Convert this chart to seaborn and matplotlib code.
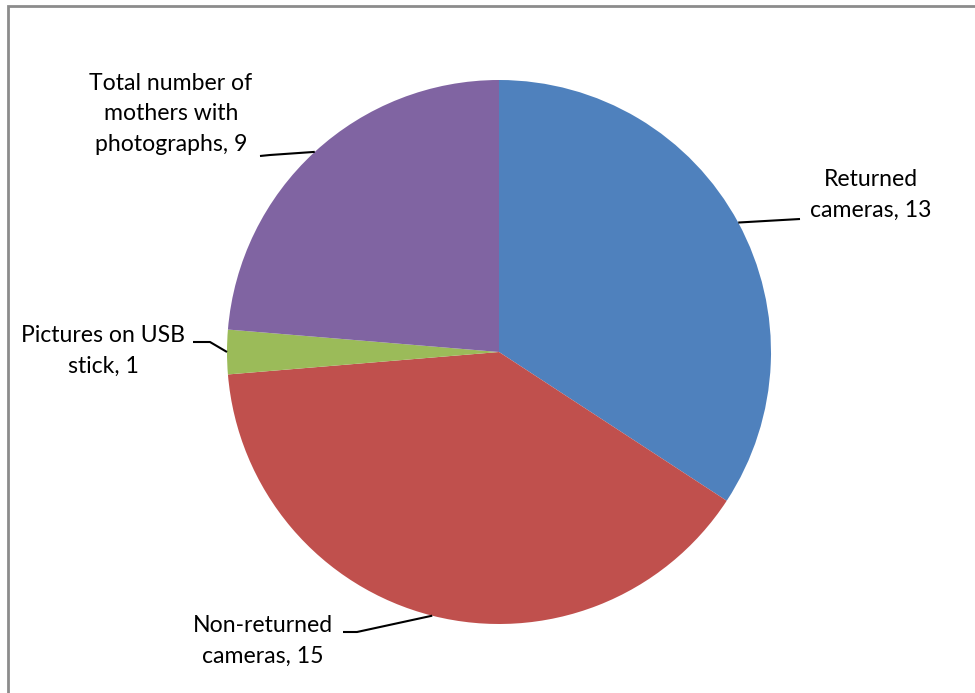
import numpy as np
import matplotlib
matplotlib.use('Agg')
import matplotlib.pyplot as plt
import seaborn as sns
from matplotlib.patches import Rectangle

# Chart data
categories = ['Returned\ncameras', 'Non-returned\ncameras', 'Pictures on USB\nstick',
              'Total number of\nmothers with\nphotographs']
values = [13, 15, 1, 9]
colors = ['#4F81BD', '#C0504D', '#9BBB59', '#8064A2']

sns.set_theme(style='white')
plt.rcParams['font.family'] = ['Lato', 'DejaVu Sans']

W, H = 975, 693
cx, cy, R = 499, 352, 272  # pie centre / radius in pixels

fig = plt.figure(figsize=(W / 100, H / 100), dpi=100)
ax = fig.add_axes([0, 0, 1, 1])

wedges, _ = ax.pie(values, colors=colors, startangle=90, counterclock=False,
                   radius=1, center=(0, 0), wedgeprops=dict(linewidth=0))

# pie() resets limits, so set them afterwards
ax.set_aspect('auto')
ax.set_xlim(-cx / R, (W - cx) / R)
ax.set_ylim(-(H - cy) / R, cy / R)
ax.axis('off')


def px(x, y):
    return ((x - cx) / R, (cy - y) / R)


# label text centre (px), leader start next to text (px), optional elbow (px)
label_pos = [(871, 195), (263, 641), (103, 351), (171, 114)]
leader_start = [(800, 219), (343, 632), (193, 342), (260, 156)]
leader_elbow = [None, (357, 632), (210, 342), (270, 155)]

total = sum(values)
start = 0.0
for i, v in enumerate(values):
    mid = start + v / 2
    start += v
    ang = np.deg2rad(mid / total * 360)
    ex, ey = np.sin(ang), np.cos(ang)
    tx, ty = px(*label_pos[i])
    ax.text(tx, ty, f'{categories[i]}, {v}', ha='center', va='center',
            fontsize=16.6, color='black', linespacing=1.56)
    pts = [px(*leader_start[i])]
    if leader_elbow[i] is not None:
        pts.append(px(*leader_elbow[i]))
    pts.append((ex, ey))
    xs, ys = zip(*pts)
    ax.plot(xs, ys, color='black', lw=1.5, solid_capstyle='butt')

# chart area border
fig.patches.append(Rectangle((8 / W, -0.05), 1.2, 1 - 6 / H + 0.05,
                             transform=fig.transFigure, fill=False,
                             edgecolor='#8c8c8c', lw=2))

fig.savefig('out.png', dpi=100)
